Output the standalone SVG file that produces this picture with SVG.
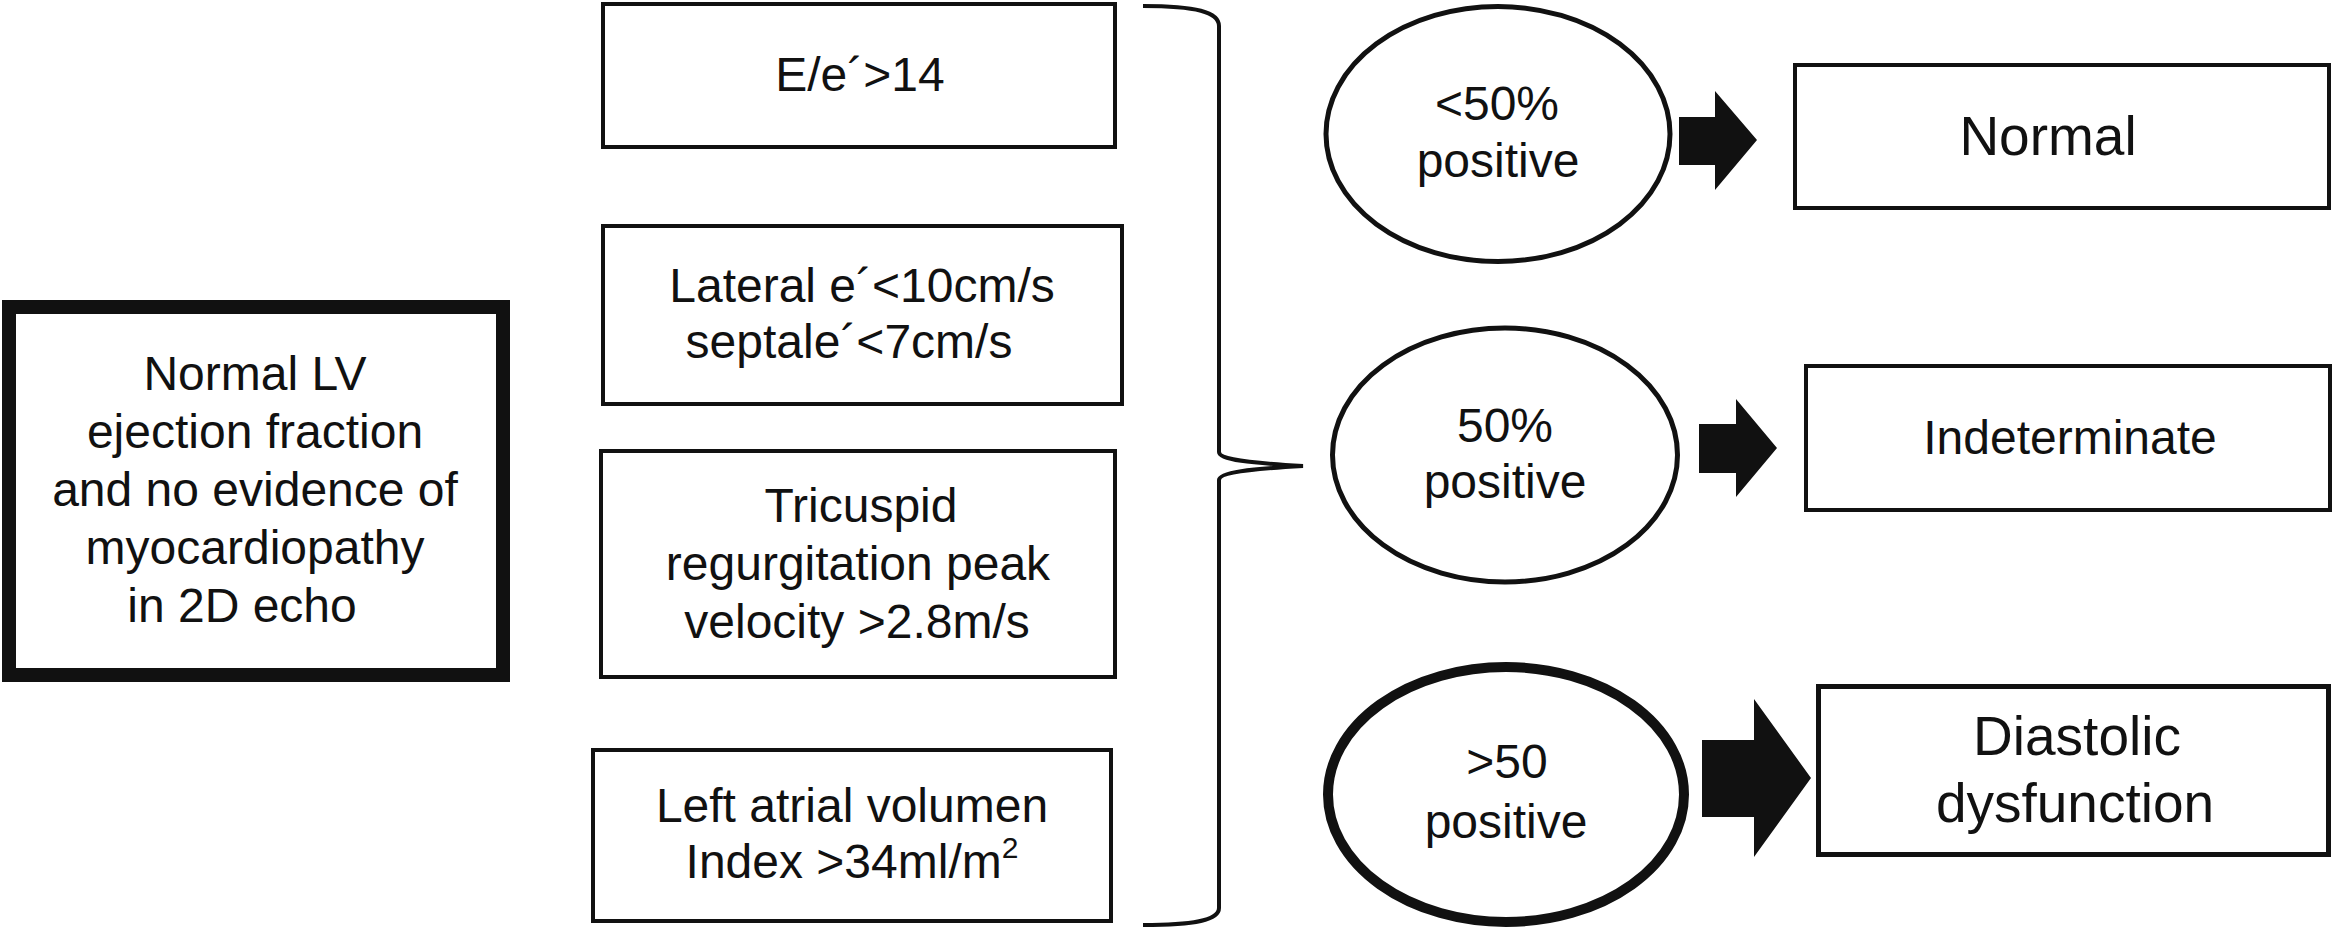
<svg xmlns="http://www.w3.org/2000/svg" width="2334" height="928" viewBox="0 0 2334 928">
<style>
  .bg { fill: #ffffff; }
  .box { fill: #ffffff; stroke: #111111; stroke-width: 4; }
  .oval { fill: #ffffff; stroke: #111111; stroke-width: 5; }
  .t { font-family: "Liberation Sans", Arial, sans-serif; font-size: 48px; fill: #111111; text-anchor: middle; }
  .big { font-size: 55px; }
  .arrow { fill: #111111; stroke: none; }
  .brace { fill: none; stroke: #111111; stroke-width: 4; }
</style>
<rect class="bg" x="0" y="0" width="2334" height="928"/>

<g id="start">
  <rect class="box" x="9" y="307" width="494" height="368" style="stroke-width:14"/>
  <text class="t" x="255" y="390">Normal LV</text>
  <text class="t" x="255" y="448">ejection fraction</text>
  <text class="t" x="255" y="506">and no evidence of</text>
  <text class="t" x="255" y="564">myocardiopathy</text>
  <text class="t" x="242" y="622">in 2D echo</text>
</g>

<g id="crit-ee">
  <rect class="box" x="603" y="4" width="512" height="143"/>
  <text class="t" x="860" y="91">E/e´&gt;14</text>
</g>

<g id="crit-lateral">
  <rect class="box" x="603" y="226" width="519" height="178"/>
  <text class="t" x="862" y="302">Lateral e´&lt;10cm/s</text>
  <text class="t" x="849" y="358">septale´&lt;7cm/s</text>
</g>

<g id="crit-tr">
  <rect class="box" x="601" y="451" width="514" height="226"/>
  <text class="t" x="861" y="522">Tricuspid</text>
  <text class="t" x="858" y="580">regurgitation peak</text>
  <text class="t" x="857" y="638">velocity &gt;2.8m/s</text>
</g>

<g id="crit-la">
  <rect class="box" x="593" y="750" width="518" height="171"/>
  <text class="t" x="852" y="822">Left atrial volumen</text>
  <text class="t" x="852" y="878">Index &gt;34ml/m<tspan font-size="30" dy="-20">2</tspan></text>
</g>

<g id="connectors">
  <path class="brace" d="M1143,6 C1196,6 1219,12 1219,26 L1219,452 C1219,460 1250,463 1303,466 C1250,469 1219,472 1219,480 L1219,908 C1219,920 1196,925 1143,925"/>
  <polygon class="arrow" points="1679,117 1715,117 1715,91 1757,140 1715,190 1715,165 1679,165"/>
  <polygon class="arrow" points="1699,424 1736,424 1736,399 1777,448 1736,497 1736,473 1699,473"/>
  <polygon class="arrow" points="1702,740 1754,740 1754,699 1811,778 1754,857 1754,817 1702,817"/>
</g>

<g id="less50">
  <ellipse class="oval" cx="1498" cy="134" rx="172" ry="127.5"/>
  <text class="t" x="1497" y="120">&lt;50%</text>
  <text class="t" x="1498" y="177">positive</text>
</g>

<g id="eq50">
  <ellipse class="oval" cx="1505" cy="455" rx="172.5" ry="127"/>
  <text class="t" x="1505" y="442">50%</text>
  <text class="t" x="1505" y="498">positive</text>
</g>

<g id="gt50">
  <ellipse class="oval" cx="1506" cy="794.5" rx="178" ry="127.5" style="stroke-width:10"/>
  <text class="t" x="1507" y="778">&gt;50</text>
  <text class="t" x="1506" y="838">positive</text>
</g>

<g id="normal">
  <rect class="box" x="1795" y="65" width="534" height="143"/>
  <text class="t big" x="2048" y="155">Normal</text>
</g>

<g id="indeterminate">
  <rect class="box" x="1806" y="366" width="524" height="144"/>
  <text class="t" x="2070" y="454">Indeterminate</text>
</g>

<g id="diastolic">
  <rect class="box" x="1818.5" y="686.5" width="510" height="168" style="stroke-width:5"/>
  <text class="t big" x="2077" y="755">Diastolic</text>
  <text class="t big" x="2075" y="822">dysfunction</text>
</g>
</svg>
